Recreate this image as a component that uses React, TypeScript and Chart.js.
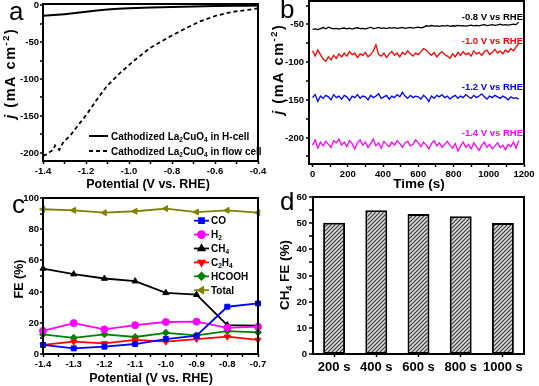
import React, { useEffect, useRef } from 'react';
import { Chart, registerables } from 'chart.js';
import { drawPoint } from 'chart.js/helpers';

Chart.register(...registerables);

const FONT = '"Liberation Sans", Arial, Helvetica, sans-serif';

// ---------------- Panel a : LSV curves ----------------
const aHcellPotential = [-1.4, -1.35, -1.3, -1.25, -1.2, -1.15, -1.1, -1.05, -1.0, -0.9, -0.8, -0.7, -0.6, -0.5, -0.45, -0.4];
const aHcellCurrent = [-14.5, -13.5, -12.3, -10.8, -9.0, -7.4, -6.0, -5.0, -4.2, -3.2, -2.4, -1.8, -1.3, -0.9, -0.7, -0.5];
const aFlowPotential = [-1.4, -1.383, -1.365, -1.352, -1.344, -1.335, -1.324, -1.305, -1.274, -1.243, -1.197, -1.15, -1.104, -1.042, -0.98, -0.902, -0.825, -0.747, -0.67, -0.592, -0.515, -0.437, -0.4];
const aFlowCurrent = [-204, -202, -198, -196, -190, -193, -196, -185, -177, -165, -148, -128, -110, -92, -76, -58, -45, -33, -22, -14, -9, -6, -4.5];
const aYTicks = [-200, -175, -150, -125, -100, -75, -50, -25, 0];
const aYTickLabels = ['-200', '', '-150', '', '-100', '', '-50', '', '0'];

// ---------------- Panel b : chronoamperometry ----------------
const bTime = [
  0, 15, 30, 45, 60, 75, 90, 105, 120, 135,
  150, 165, 180, 195, 210, 225, 240, 255, 270, 285,
  300, 315, 330, 345, 360, 375, 390, 405, 420, 435,
  450, 465, 480, 495, 510, 525, 540, 555, 570, 585,
  600, 615, 630, 645, 660, 675, 690, 705, 720, 735,
  750, 765, 780, 795, 810, 825, 840, 855, 870, 885,
  900, 915, 930, 945, 960, 975, 990, 1005, 1020, 1035,
  1050, 1065, 1080, 1095, 1110, 1125, 1140, 1155, 1170,
];
const bCurrent08 = [
  -56.5, -56.0, -56.8, -55.5, -54.2, -55.8, -53.6, -55.0, -55.9, -55.2,
  -56.3, -55.4, -54.8, -55.9, -55.1, -56.2, -55.0, -54.5, -55.7, -55.3,
  -56.0, -55.1, -53.8, -55.6, -54.9, -54.0, -55.2, -54.6, -55.5, -54.3,
  -55.0, -54.4, -55.3, -54.7, -54.1, -55.2, -54.5, -53.9, -54.8, -54.2,
  -53.6, -54.5, -53.8, -51.8, -52.2, -51.5, -52.4, -51.9, -52.6, -51.7,
  -52.3, -51.4, -52.5, -51.8, -52.1, -51.2, -52.0, -51.6, -52.3, -51.5,
  -51.0, -51.9, -51.3, -52.0, -51.1, -50.4, -51.6, -51.0, -50.3, -51.2,
  -50.6, -49.8, -51.0, -50.4, -50.9, -50.2, -49.6, -50.3, -47.0,
];
const bCurrent10 = [
  -85, -92, -84, -90, -96, -99, -93, -97, -91, -95,
  -89, -93, -88, -92, -86, -90, -88, -94, -89, -91,
  -87, -93, -90, -85, -77, -90, -92, -88, -94, -89,
  -86, -91, -88, -93, -87, -90, -85, -89, -92, -88,
  -90, -86, -82, -84, -88, -91, -87, -93, -89, -86,
  -90, -92, -95, -89, -93, -87, -91, -86, -90, -88,
  -92, -85, -89, -87, -91, -86, -84, -90, -87, -83,
  -88, -85, -89, -84, -87, -82, -85, -80, -75,
];
const bCurrent12 = [
  -147, -143, -152, -145, -148, -144, -146, -150, -143, -147,
  -145, -149, -144, -146, -151, -145, -147, -143, -148, -145,
  -146, -150, -144, -147, -145, -142, -148, -146, -144, -149,
  -145, -147, -143, -146, -140, -145, -148, -144, -147, -145,
  -146, -149, -144, -147, -152, -145, -148, -144, -146, -143,
  -147, -145, -149, -146, -144, -148, -145, -147, -143, -146,
  -148, -144, -147, -145, -142, -146, -149, -145, -147, -144,
  -146, -148, -145, -147, -150, -146, -148, -147, -149,
];
const bCurrent14 = [
  -210, -203, -214, -206, -211, -205, -209, -213, -204, -207,
  -202, -210, -206, -212, -204, -208, -215, -207, -203, -210,
  -206, -213, -208, -202, -211, -207, -214, -205, -209, -212,
  -206, -210, -204, -208, -213, -207, -205, -211, -209, -203,
  -207, -212, -206, -210, -215, -208, -204, -211, -207, -213,
  -209, -205, -210, -214, -208, -218, -211, -206, -213, -209,
  -215, -207, -212, -217, -210, -206, -213, -209, -215, -211,
  -207, -213, -210, -216, -209, -212, -206, -214, -204,
];
const bLabels = ['-0.8 V vs RHE', '-1.0 V vs RHE', '-1.2 V vs RHE', '-1.4 V vs RHE'];
const bLabelLevel = [-40, -72, -133, -194];
const bColors = ['#000000', '#ff0000', '#0000ff', '#ff00ff'];
const bYTicks = [-225, -200, -175, -150, -125, -100, -75, -50, -25];
const bYTickLabels = ['', '-200', '', '-150', '', '-100', '', '-50', ''];

// ---------------- Panel c : Faradaic efficiencies ----------------
const cPotential = [-1.4, -1.3, -1.2, -1.1, -1.0, -0.9, -0.8, -0.7];
const cCO = [5.8, 3.6, 4.7, 6.4, 9.6, 11.7, 30.3, 32.4];
const cH2 = [14.9, 19.8, 15.8, 18.5, 20.5, 20.7, 16.8, 17.5];
const cCH4 = [54.8, 51.2, 48.4, 46.7, 39.2, 38.0, 18.5, 18.1];
const cC2H4 = [5.8, 7.9, 6.8, 9.0, 7.9, 9.6, 11.1, 9.0];
const cHCOOH = [12.6, 10.4, 12.6, 10.9, 13.6, 11.9, 14.7, 13.9];
const cTotal = [92.8, 92.1, 90.6, 91.5, 93.2, 91.0, 92.1, 90.6];
const cYTicks = [0, 10, 20, 30, 40, 50, 60, 70, 80, 90, 100];
const cYTickLabels = ['0', '', '20', '', '40', '', '60', '', '80', '', '100'];

// ---------------- Panel d : CH4 FE vs time ----------------
const dTimes = ['200 s', '400 s', '600 s', '800 s', '1000 s'];
const dCH4FE = [50.2, 54.9, 53.5, 52.6, 50.1];
const dYTicks = [0, 5, 10, 15, 20, 25, 30, 35, 40, 45, 50, 55, 60];
const dYTickLabels = ['0', '', '10', '', '20', '', '30', '', '40', '', '50', '', '60'];

// ---------------- helpers ----------------
type Seg = { t: string; sub?: boolean; sup?: boolean; it?: boolean };

function drawRich(
  ctx: CanvasRenderingContext2D,
  segs: Seg[],
  x: number,
  y: number,
  size: number,
  align: 'left' | 'center' | 'right' = 'left',
  color = '#000',
  rot = 0,
  sp = 0
) {
  ctx.save();
  ctx.translate(x, y);
  if (rot) ctx.rotate(rot);
  ctx.fillStyle = color;
  ctx.textBaseline = 'alphabetic';
  ctx.textAlign = 'left';
  const fonts = segs.map((s) => `${s.it ? 'italic ' : ''}bold ${s.sub || s.sup ? size * 0.65 : size}px ${FONT}`);
  const widths = segs.map((s, i) => {
    ctx.font = fonts[i];
    return ctx.measureText(s.t).width + sp * s.t.length;
  });
  const total = widths.reduce((p, c) => p + c, 0) - sp;
  let cx = align === 'center' ? -total / 2 : align === 'right' ? -total : 0;
  const base = size * 0.36;
  segs.forEach((s, i) => {
    ctx.font = fonts[i];
    const dy = s.sub ? base + size * 0.22 : s.sup ? base - size * 0.42 : base;
    if (sp) {
      for (const ch of s.t) {
        ctx.fillText(ch, cx, dy);
        cx += ctx.measureText(ch).width + sp;
      }
    } else {
      ctx.fillText(s.t, cx, dy);
      cx += widths[i];
    }
  });
  ctx.restore();
}

function drawLetter(ctx: CanvasRenderingContext2D, t: string, x: number, y: number) {
  ctx.save();
  ctx.font = `26px ${FONT}`;
  ctx.fillStyle = '#000';
  ctx.textBaseline = 'alphabetic';
  ctx.textAlign = 'left';
  ctx.fillText(t, x, y);
  ctx.restore();
}

const isMult = (v: number, step: number) => Math.abs(v / step - Math.round(v / step)) < 1e-6;

type AxisOpt = {
  min: number; max: number; step: number; labelStep: number; decimals: number;
  size: number; tickLength: number; padding: number; fit: (s: any) => void;
};

function linAxis(o: AxisOpt, selfDrawn = false) {
  return {
    type: 'linear' as const,
    min: o.min,
    max: o.max,
    border: { display: false },
    grid: { display: !selfDrawn, drawOnChartArea: false, drawTicks: true, tickLength: o.tickLength, tickWidth: 1.5, tickColor: '#000' },
    ticks: {
      display: !selfDrawn,
      stepSize: o.step,
      includeBounds: false,
      autoSkip: false,
      maxRotation: 0,
      padding: o.padding,
      color: '#000',
      font: { family: FONT, size: o.size, weight: 'bold' as const },
      callback: (v: any) => (isMult(Number(v), o.labelStep) ? Number(v).toFixed(o.decimals) : ''),
    },
    afterFit: o.fit,
  };
}

// vertical axis ticks/labels from the named tick arrays, placed with the Chart.js y scale
function drawYAxis(chart: any, ctx: CanvasRenderingContext2D, ticks: number[], labels: string[], o: AxisOpt) {
  const ys = chart.scales.y;
  const a = chart.chartArea;
  ctx.save();
  ctx.strokeStyle = '#000';
  ctx.lineWidth = 1.5;
  ctx.fillStyle = '#000';
  ctx.font = `bold ${o.size}px ${FONT}`;
  ctx.textAlign = 'right';
  ctx.textBaseline = 'middle';
  ticks.forEach((v, i) => {
    const py = Math.round(ys.getPixelForValue(v));
    ctx.beginPath();
    ctx.moveTo(a.left, py);
    ctx.lineTo(a.left - o.tickLength, py);
    ctx.stroke();
    if (labels[i]) ctx.fillText(labels[i], a.left - o.tickLength - o.padding, py + 0.5);
  });
  ctx.restore();
}

const fixY = (w: number) => (s: any) => {
  s.width = w;
  s.paddingTop = 0;
  s.paddingBottom = 0;
};
const fixX = (h: number) => (s: any) => {
  s.height = h;
  s.paddingLeft = 0;
  s.paddingRight = 0;
};

function deco(yOpt: AxisOpt, yTicks: number[], yLabels: string[], draw: (chart: any, ctx: CanvasRenderingContext2D, a: any) => void) {
  return {
    id: 'deco',
    afterDraw(chart: any) {
      const ctx = chart.ctx as CanvasRenderingContext2D;
      const a = chart.chartArea;
      ctx.save();
      ctx.strokeStyle = '#000';
      ctx.lineWidth = 2;
      ctx.strokeRect(a.left, a.top, a.right - a.left, a.bottom - a.top);
      ctx.restore();
      drawYAxis(chart, ctx, yTicks, yLabels, yOpt);
      ctx.save();
      draw(chart, ctx, a);
      ctx.restore();
    },
  };
}

const baseOptions = (padding: any) => ({
  responsive: false,
  maintainAspectRatio: false,
  animation: false as const,
  events: [] as any[],
  layout: { padding },
  plugins: { legend: { display: false }, tooltip: { enabled: false } },
});

const jTitle: Seg[] = [{ t: 'j', it: true }, { t: ' (mA cm' }, { t: '-2', sup: true }, { t: ')' }];

function configA(): any {
  const yOpt: AxisOpt = { min: -211, max: 1.5, step: 25, labelStep: 50, decimals: 0, size: 9.5, tickLength: 3, padding: 1, fit: fixY(43) };
  return {
    type: 'line',
    data: {
      datasets: [
        { data: aHcellPotential.map((x, i) => ({ x, y: aHcellCurrent[i] })), borderColor: '#000', borderWidth: 2, pointRadius: 0 },
        { data: aFlowPotential.map((x, i) => ({ x, y: aFlowCurrent[i] })), borderColor: '#000', borderWidth: 1.8, borderDash: [4, 3], pointRadius: 0 },
      ],
    },
    options: {
      ...baseOptions({ left: 0, top: 4, right: 10, bottom: 11 }),
      scales: {
        x: linAxis({ min: -1.4, max: -0.4, step: 0.1, labelStep: 0.2, decimals: 1, size: 9.5, tickLength: 3, padding: 1.5, fit: fixX(20) }),
        y: linAxis(yOpt, true),
      },
    },
    plugins: [
      deco(yOpt, aYTicks, aYTickLabels, (chart, ctx, a) => {
        drawLetter(ctx, 'a', a.left - 34, a.top + 16);
        drawRich(ctx, [{ t: 'Potential (V vs. RHE)' }], a.left + 105, a.bottom + 22, 12.5, 'center');
        drawRich(ctx, jTitle, a.left - 33, a.top + 70, 14.5, 'center', '#000', -Math.PI / 2, 1.5);
        const rows = [
          { dy: 132, dash: [] as number[], txt: ' in H-cell' },
          { dy: 147, dash: [4, 3], txt: ' in flow cell' },
        ];
        rows.forEach((r) => {
          const y = a.top + r.dy;
          ctx.save();
          ctx.strokeStyle = '#000';
          ctx.lineWidth = 2;
          ctx.setLineDash(r.dash);
          ctx.beginPath();
          ctx.moveTo(a.left + 46, y);
          ctx.lineTo(a.left + 65, y);
          ctx.stroke();
          ctx.restore();
          drawRich(ctx, [{ t: 'Cathodized La' }, { t: '2', sub: true }, { t: 'CuO' }, { t: '4', sub: true }, { t: r.txt }], a.left + 68, y, 10);
        });
      }),
    ],
  };
}

function configB(): any {
  const series = [bCurrent08, bCurrent10, bCurrent12, bCurrent14];
  const yOpt: AxisOpt = { min: -235, max: -19, step: 25, labelStep: 50, decimals: 0, size: 9.5, tickLength: 3, padding: 2, fit: fixY(41) };
  return {
    type: 'line',
    data: {
      datasets: series.map((s, i) => ({
        data: bTime.map((x, j) => ({ x, y: s[j] })),
        borderColor: bColors[i],
        borderWidth: 1.3,
        pointRadius: 0,
      })),
    },
    options: {
      ...baseOptions({ left: 0, top: 1, right: 15, bottom: 8 }),
      scales: {
        x: linAxis({ min: -20, max: 1200, step: 100, labelStep: 200, decimals: 0, size: 9.5, tickLength: 3, padding: 1.5, fit: fixX(20) }),
        y: linAxis(yOpt, true),
      },
    },
    plugins: [
      deco(yOpt, bYTicks, bYTickLabels, (chart, ctx, a) => {
        const ys = chart.scales.y;
        drawLetter(ctx, 'b', a.left - 29, a.top + 17);
        drawRich(ctx, [{ t: 'Time (s)' }], a.left + 110, a.bottom + 19, 13.5, 'center');
        drawRich(ctx, jTitle, a.left - 31, a.top + 69, 14.5, 'center', '#000', -Math.PI / 2, 1.5);
        bLabels.forEach((l, i) => {
          drawRich(ctx, [{ t: l }], a.right - 1, ys.getPixelForValue(bLabelLevel[i]), 9.5, 'right', bColors[i]);
        });
      }),
    ],
  };
}

const cNames: Seg[][] = [
  [{ t: 'CO' }],
  [{ t: 'H' }, { t: '2', sub: true }],
  [{ t: 'CH' }, { t: '4', sub: true }],
  [{ t: 'C' }, { t: '2', sub: true }, { t: 'H' }, { t: '4', sub: true }],
  [{ t: 'HCOOH' }],
  [{ t: 'Total' }],
];
const cColors = ['#0000ff', '#ff00ff', '#000000', '#ff0000', '#008000', '#808000'];
const cMarkers = ['rect', 'circle', 'triangle', 'triangle', 'rectRot', 'triangle'];
const cRotation = [0, 0, 0, 180, 0, -90];

function configC(): any {
  const series = [cCO, cH2, cCH4, cC2H4, cHCOOH, cTotal];
  const yOpt: AxisOpt = { min: 0, max: 100, step: 10, labelStep: 20, decimals: 0, size: 9.5, tickLength: 3, padding: 1, fit: fixY(43) };
  return {
    type: 'line',
    data: {
      datasets: series.map((s, i) => ({
        data: cPotential.map((x, j) => ({ x, y: s[j] })),
        borderColor: cColors[i],
        backgroundColor: cColors[i],
        pointBackgroundColor: cColors[i],
        pointBorderColor: cColors[i],
        pointStyle: cMarkers[i],
        pointRotation: cRotation[i],
        pointRadius: 3.5,
        pointBorderWidth: 1,
        borderWidth: 1.8,
        clip: false,
      })),
    },
    options: {
      ...baseOptions({ left: 0, top: 6, right: 10, bottom: 12 }),
      scales: {
        x: linAxis({ min: -1.4, max: -0.7, step: 0.05, labelStep: 0.1, decimals: 1, size: 9.5, tickLength: 3, padding: 1.5, fit: fixX(20) }),
        y: linAxis(yOpt, true),
      },
    },
    plugins: [
      deco(yOpt, cYTicks, cYTickLabels, (chart, ctx, a) => {
        drawLetter(ctx, 'c', a.left - 31, a.top + 15);
        drawRich(ctx, [{ t: 'Potential (V vs. RHE)' }], a.left + 108, a.bottom + 23, 12.5, 'center');
        drawRich(ctx, [{ t: 'FE (%)' }], a.left - 25, a.top + 81, 12.5, 'center', '#000', -Math.PI / 2);
        cNames.forEach((n, i) => {
          const y = a.top + 22.7 + i * 13.9;
          const x0 = a.right - 64;
          ctx.save();
          ctx.strokeStyle = cColors[i];
          ctx.fillStyle = cColors[i];
          ctx.lineWidth = 1.8;
          ctx.beginPath();
          ctx.moveTo(x0, y);
          ctx.lineTo(x0 + 15, y);
          ctx.stroke();
          drawPoint(ctx, { pointStyle: cMarkers[i] as any, rotation: cRotation[i], radius: 3.5, borderWidth: 1 } as any, x0 + 7.5, y);
          ctx.restore();
          drawRich(ctx, n, x0 + 17, y, 10);
        });
      }),
    ],
  };
}

function makeHatch(): CanvasPattern | string {
  const pc = document.createElement('canvas');
  pc.width = 4;
  pc.height = 4;
  const p = pc.getContext('2d');
  if (!p) return '#999';
  p.fillStyle = '#dcdcdc';
  p.fillRect(0, 0, 4, 4);
  p.strokeStyle = '#303030';
  p.lineWidth = 1.1;
  p.beginPath();
  p.moveTo(0, 4);
  p.lineTo(4, 0);
  p.moveTo(-1, 1);
  p.lineTo(1, -1);
  p.moveTo(3, 5);
  p.lineTo(5, 3);
  p.stroke();
  return p.createPattern(pc, 'repeat') || '#999';
}

function configD(): any {
  const yOpt: AxisOpt = { min: 0, max: 60, step: 5, labelStep: 10, decimals: 0, size: 9.5, tickLength: 4, padding: 2, fit: fixY(45) };
  return {
    type: 'bar',
    data: {
      labels: dTimes,
      datasets: [
        {
          data: dCH4FE,
          backgroundColor: makeHatch(),
          borderColor: '#000',
          borderWidth: 2,
          borderSkipped: false,
          barPercentage: 0.52,
          categoryPercentage: 1,
        },
      ],
    },
    options: {
      ...baseOptions({ left: 0, top: 5, right: 15, bottom: 12 }),
      scales: {
        x: {
          type: 'category',
          border: { display: false },
          grid: { display: true, offset: false, drawOnChartArea: false, drawTicks: true, tickLength: 3, tickWidth: 1.5, tickColor: '#000' },
          ticks: { color: '#000', padding: 3, autoSkip: false, maxRotation: 0, minRotation: 0, font: { family: FONT, size: 13, weight: 'bold' } },
          afterFit: fixX(20),
        },
        y: linAxis(yOpt, true),
      },
    },
    plugins: [
      deco(yOpt, dYTicks, dYTickLabels, (chart, ctx, a) => {
        drawLetter(ctx, 'd', a.left - 33, a.top + 13);
        drawRich(ctx, [{ t: 'CH' }, { t: '4', sub: true }, { t: ' FE (%)' }], a.left - 29, a.top + 78, 13.5, 'center', '#000', -Math.PI / 2);
      }),
    ],
  };
}

const PANELS = [
  { key: 'a', left: 0, top: 0, width: 268, height: 192, make: configA },
  { key: 'b', left: 268, top: 0, width: 271, height: 192, make: configB },
  { key: 'c', left: 0, top: 192, width: 268, height: 194, make: configC },
  { key: 'd', left: 268, top: 192, width: 271, height: 194, make: configD },
];

function Panel(props: { left: number; top: number; width: number; height: number; make: () => any }) {
  const ref = useRef<HTMLCanvasElement>(null);
  useEffect(() => {
    if (!ref.current) return;
    const chart = new Chart(ref.current, props.make());
    return () => chart.destroy();
  }, []);
  return (
    <div style={{ position: 'absolute', left: props.left, top: props.top, width: props.width, height: props.height }}>
      <canvas ref={ref} width={props.width} height={props.height} style={{ display: 'block', width: props.width, height: props.height }} />
    </div>
  );
}

export default function App() {
  return (
    <div style={{ position: 'absolute', left: 0, top: 0, width: 539, height: 386, background: '#fff', overflow: 'hidden' }}>
      {PANELS.map((p) => (
        <Panel key={p.key} left={p.left} top={p.top} width={p.width} height={p.height} make={p.make} />
      ))}
    </div>
  );
}
